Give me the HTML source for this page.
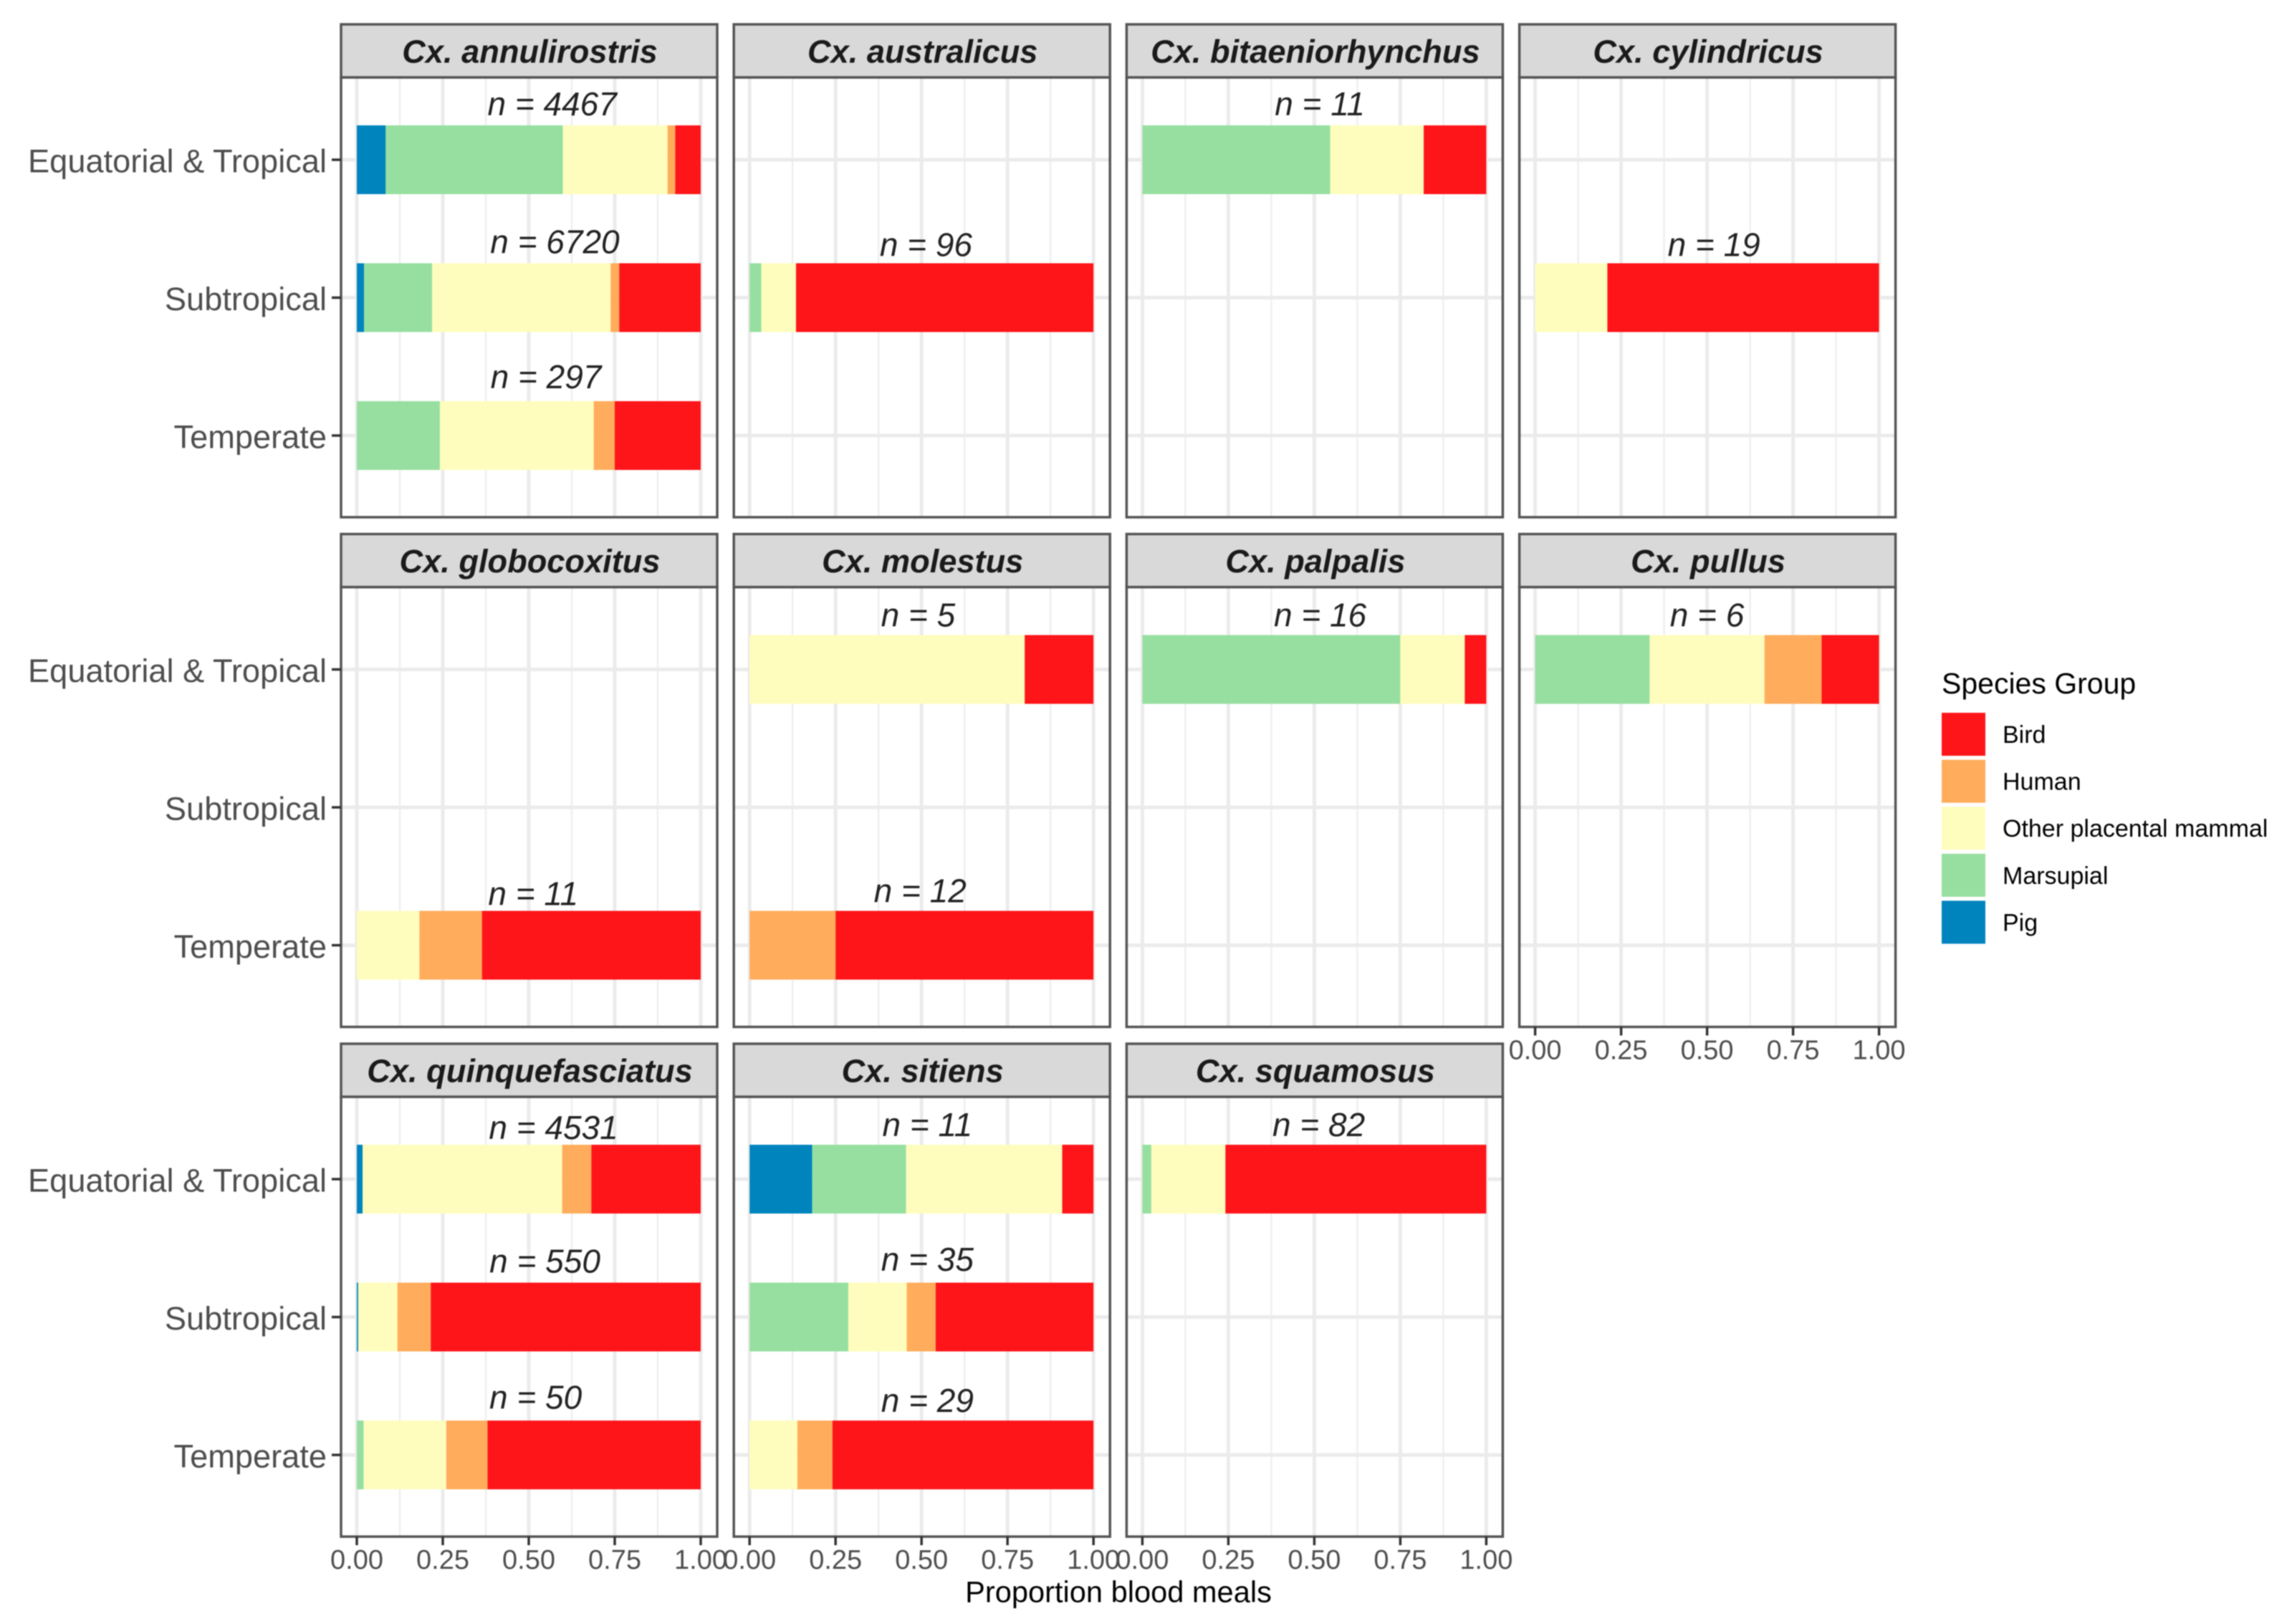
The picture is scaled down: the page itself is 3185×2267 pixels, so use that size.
<!DOCTYPE html>
<html lang="en">
<head>
<meta charset="utf-8">
<title>Proportion of blood meals by species group, climate zone and Culex species</title>
<style>
html,body{margin:0;padding:0;background:#fff;width:3185px;height:2267px;overflow:hidden}
#chart{display:block;filter:blur(0.7px)}
text{font-family:"Liberation Sans",Arial,sans-serif}
</style>
</head>
<body>
<svg id="chart" xmlns="http://www.w3.org/2000/svg" width="3185" height="2267" viewBox="0 0 3185 2267"></svg>
<script>
const species = ['Cx. annulirostris','Cx. australicus','Cx. bitaeniorhynchus','Cx. cylindricus','Cx. globocoxitus','Cx. molestus','Cx. palpalis','Cx. pullus','Cx. quinquefasciatus','Cx. sitiens','Cx. squamosus'];
const climates = ['Equatorial & Tropical','Subtropical','Temperate'];
const xTickLabels = ['0.00','0.25','0.50','0.75','1.00'];
const xTickValues = [0,0.25,0.5,0.75,1];
const xMinorValues = [0.125,0.375,0.625,0.875];
const legendGroups = ['Bird','Human','Other placental mammal','Marsupial','Pig'];

// Values: three per species (Equatorial & Tropical, Subtropical, Temperate); null = no bar
const pigShare = [
  .084,.021,0,  null,0,null,  0,null,null,  null,0,null,
  null,null,0,  0,null,0,  0,null,null,  0,null,null,
  .017,.004,0,  .182,0,0,  0,null,null];
const marsupialShare = [
  .515,.198,.2415,  null,.034,null,  .546,null,null,  null,0,null,
  null,null,0,  0,null,0,  .75,null,null,  .333,null,null,
  0,0,.02,  .273,.287,0,  .026,null,null];
const otherMammalShare = [
  .3045,.519,.4475,  null,.101,null,  .272,null,null,  null,.21,null,
  null,null,.182,  .8,null,0,  .1875,null,null,  .334,null,null,
  .58,.114,.24,  .454,.17,.139,  .2155,null,null];
const humanShare = [
  .0225,.025,.061,  null,0,null,  0,null,null,  null,0,null,
  null,null,.182,  0,null,.25,  0,null,null,  .166,null,null,
  .085,.097,.12,  0,.084,.102,  0,null,null];
const birdShare = [
  .074,.237,.25,  null,.865,null,  .182,null,null,  null,.79,null,
  null,null,.636,  .2,null,.75,  .0625,null,null,  .167,null,null,
  .318,.785,.62,  .091,.459,.759,  .7585,null,null];
const sampleSizes = [
  4467,6720,297,  null,96,null,  11,null,null,  null,19,null,
  null,null,11,  5,null,12,  16,null,null,  6,null,null,
  4531,550,50,  11,35,29,  82,null,null];
// Hand-placed annotation anchors, in axis units (centre on x, height above category on y)
const nLabelX = [
  .568,.576,.55,  null,.513,null,  .516,null,null,  null,.52,null,
  null,null,.513,  .49,null,.496,  .517,null,null,  .5,null,null,
  .572,.547,.52,  .517,.517,.517,  .513,null,null];
const nLabelLift = [
  .406,.406,.427,  null,.385,null,  .406,null,null,  null,.385,null,
  null,null,.374,  .396,null,.396,  .396,null,null,  .396,null,null,
  .374,.406,.417,  .396,.417,.396,  .396,null,null];

const seriesValues = [pigShare, marsupialShare, otherMammalShare, humanShare, birdShare];
const seriesNames = ['pig','marsupial','other-mammal','human','bird'];
const seriesColors = ['#0084be','#96dfa0','#fffdbd','#ffad5c','#fe1519'];
const legendColors = ['#fe1519','#ffad5c','#fffdbd','#96dfa0','#0084be'];

const NS = 'http://www.w3.org/2000/svg';
const svg = document.getElementById('chart');
const panelW = 525, panelH = 614;
const panelLeft = c => 476 + c * 548.2;
const panelTop = r => 108 + r * 711.5;
const xScale = (c, v) => panelLeft(c) + 22 + v * 480;
const yScale = (r, j) => panelTop(r) + 115 + j * 192.5;
const barH = 96;

function mk(tag, parent, attrs) {
  const el = document.createElementNS(NS, tag);
  for (const k in attrs) el.setAttribute(k, attrs[k]);
  parent.appendChild(el);
  return el;
}

species.forEach((name, s) => {
  const col = s % 4, row = Math.floor(s / 4);
  const L = panelLeft(col), T = panelTop(row);

  const g = mk('g', svg, {});
  
  

  const bg = mk('rect', g, {x: L, y: T, width: panelW, height: panelH, fill: '#fff'});
  
  

  xMinorValues.forEach(v => {
    const ln = mk('line', g, {x1: xScale(col, v), x2: xScale(col, v), y1: T, y2: T + panelH, stroke: '#efefef', 'stroke-width': 2.5});
    
    
  });
  xTickValues.forEach(v => {
    const ln = mk('line', g, {x1: xScale(col, v), x2: xScale(col, v), y1: T, y2: T + panelH, stroke: '#ebebeb', 'stroke-width': 5});
    
    
  });
  climates.forEach((c, j) => {
    const ln = mk('line', g, {x1: L, x2: L + panelW, y1: yScale(row, j), y2: yScale(row, j), stroke: '#ebebeb', 'stroke-width': 5});
    
    
  });

  climates.forEach((c, j) => {
    const idx = s * 3 + j;
    if (sampleSizes[idx] === null) return;
    let cum = 0;
    seriesValues.forEach((vals, k) => {
      const v = vals[idx] || 0;
      if (v > 0) {
        const x0 = xScale(col, cum), x1 = xScale(col, cum + v);
        const seg = mk('rect', g, {x: x0, y: yScale(row, j) - barH / 2, width: x1 - x0, height: barH, fill: seriesColors[k]});
        
        
      }
      cum += v;
    });
    const lab = mk('text', g, {
      x: xScale(col, nLabelX[idx]),
      y: yScale(row, j) - nLabelLift[idx] * 192.5,
      'text-anchor': 'middle', 'dominant-baseline': 'central',
      'font-size': 46, 'font-style': 'italic', fill: '#222'
    });
    lab.textContent = 'n = ' + sampleSizes[idx];
    
    
  });

  const border = mk('rect', g, {x: L, y: T, width: panelW, height: panelH, fill: 'none', stroke: '#555', 'stroke-width': 3.5});
  
  

  const strip = mk('rect', g, {x: L, y: T - 74, width: panelW, height: 74, fill: '#d9d9d9', stroke: '#555', 'stroke-width': 3.5});
  
  

  const title = mk('text', g, {
    x: L + panelW / 2 + 1, y: T - 36, 'text-anchor': 'middle', 'dominant-baseline': 'central',
    'font-size': 45.2, 'font-weight': 'bold', 'font-style': 'italic', fill: '#1a1a1a'
  });
  title.textContent = name;
  
  

  if (col === 0) {
    climates.forEach((c, j) => {
      const t = mk('line', g, {x1: L - 13, x2: L, y1: yScale(row, j), y2: yScale(row, j), stroke: '#333', 'stroke-width': 3.5});
      
      
      const lbl = mk('text', g, {
        x: L - 20, y: yScale(row, j) + 2, 'text-anchor': 'end', 'dominant-baseline': 'central',
        'font-size': 45.2, fill: '#4d4d4d'
      });
      lbl.textContent = c;
      
      
    });
  }

  const hasXAxis = row === 2 || s === 7;
  if (hasXAxis) {
    xTickValues.forEach((v, i) => {
      const t = mk('line', g, {x1: xScale(col, v), x2: xScale(col, v), y1: T + panelH, y2: T + panelH + 12, stroke: '#333', 'stroke-width': 3.5});
      
      
      const lbl = mk('text', g, {
        x: xScale(col, v), y: T + panelH + 33, 'text-anchor': 'middle', 'dominant-baseline': 'central',
        'font-size': 38, fill: '#4d4d4d'
      });
      lbl.textContent = xTickLabels[i];
      
      
    });
  }
});

const xTitle = mk('text', svg, {x: 1561, y: 2222, 'text-anchor': 'middle', 'dominant-baseline': 'central', 'font-size': 41.6, fill: '#000'});
xTitle.textContent = 'Proportion blood meals';



const legend = mk('g', svg, {});



const legendTitle = mk('text', legend, {x: 2710, y: 954, 'dominant-baseline': 'central', 'font-size': 41, fill: '#000'});
legendTitle.textContent = 'Species Group';



legendGroups.forEach((name, i) => {
  const y = 995 + i * 65.6;
  const entry = mk('g', legend, {});
  
  
  const key = mk('rect', entry, {x: 2710, y: y, width: 61, height: 60, fill: legendColors[i]});
  
  
  const lbl = mk('text', entry, {x: 2795, y: y + 31, 'dominant-baseline': 'central', 'font-size': 34, fill: '#000'});
  lbl.textContent = name;
  
  
});
</script>
</body>
</html>
